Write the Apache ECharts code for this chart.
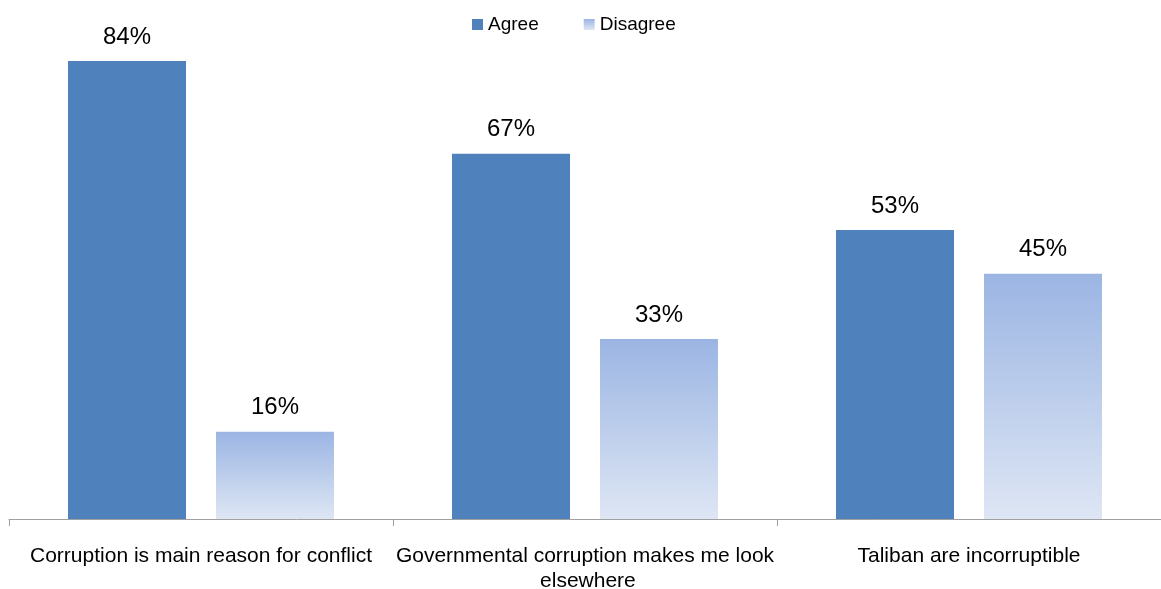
<!DOCTYPE html>
<html>
<head>
<meta charset="utf-8">
<script src="https://cdn.jsdelivr.net/npm/echarts@6/dist/echarts.min.js"></script>
<style>html,body{margin:0;padding:0;background:#fff}#c{width:1161px;height:589px}</style>
</head>
<body>
<div id="c"></div>
<script>
const categories = ['Corruption is main reason for conflict', 'Governmental corruption makes me look elsewhere', 'Taliban are incorruptible'];
const agree = [84, 67, 53];
const disagree = [16, 33, 45];
const seriesNames = ['Agree', 'Disagree'];

const FONT = '"Liberation Sans Narrow", "Liberation Sans", Arial, sans-serif';
const chart = echarts.init(document.getElementById('c'));
const labelCfg = {
  show: true, position: 'top', distance: 12,
  formatter: p => p.value + '%',
  color: '#000', fontFamily: FONT, fontSize: 24
};
chart.setOption({
  animation: false,
  textStyle: { fontFamily: FONT },
  legend: {
    top: 10, left: 467, itemWidth: 11, itemHeight: 11, itemGap: 45,
    icon: 'rect',
    textStyle: { fontFamily: FONT, fontSize: 19, color: '#000' },
    data: seriesNames
  },
  grid: { left: 9, right: 0, top: 28.3, bottom: 70, containLabel: false, outerBoundsMode: 'none' },
  xAxis: {
    type: 'category', data: categories,
    axisLine: { lineStyle: { color: '#a0a0a0', width: 1 } },
    axisTick: { show: true, length: 7, lineStyle: { color: '#a0a0a0' } },
    axisLabel: {
      color: '#000', fontFamily: FONT, fontSize: 21, margin: 25,
      width: 380, overflow: 'break', lineHeight: 25, interval: 0
    }
  },
  yAxis: { type: 'value', min: 0, max: 90, show: false, splitLine: { show: false } },
  series: [
    {
      name: seriesNames[0], type: 'bar', data: agree,
      barWidth: 118, barGap: '25.4%',
      itemStyle: { color: '#4f81bd' },
      label: labelCfg
    },
    {
      name: seriesNames[1], type: 'bar', data: disagree,
      barWidth: 118,
      itemStyle: {
        color: new echarts.graphic.LinearGradient(0, 0, 0, 1, [
          { offset: 0, color: '#9bb5e3' },
          { offset: 1, color: '#dee6f4' }
        ], false)
      },
      label: labelCfg
    }
  ]
});
</script>
</body>
</html>
